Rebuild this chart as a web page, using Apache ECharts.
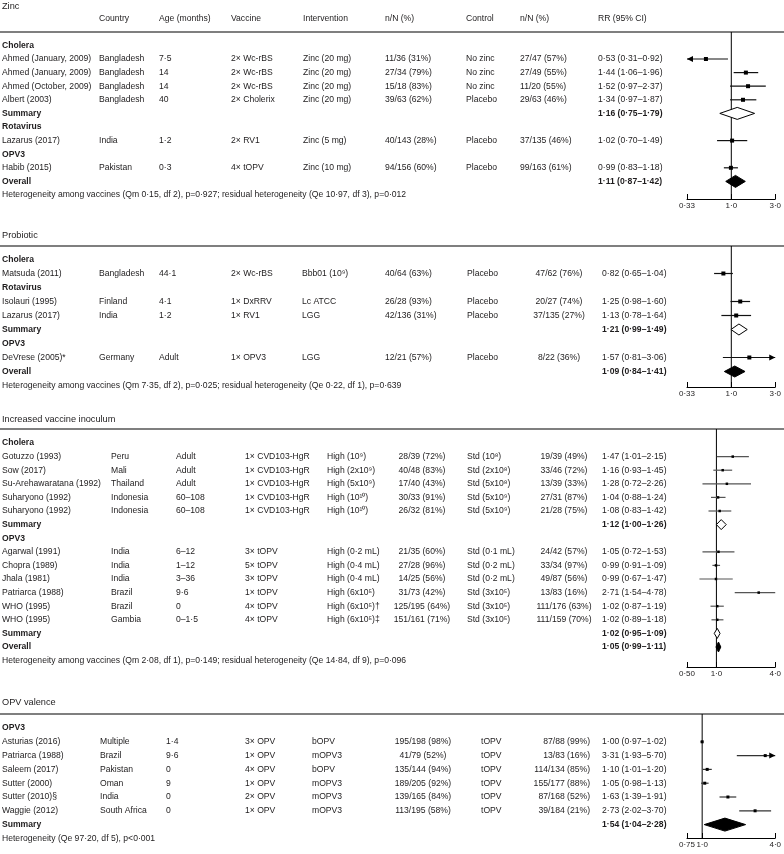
<!DOCTYPE html>
<html><head><meta charset="utf-8">
<script src="https://cdn.jsdelivr.net/npm/echarts@6/dist/echarts.min.js"></script>
<style>html,body{margin:0;padding:0;background:#fff}#c{width:784px;height:854px}</style>
</head><body><div id="c"></div>
<script>
// ---------- Zinc ----------
const zincRows    = ['Cholera','Ahmed (January, 2009)','Ahmed (January, 2009)','Ahmed (October, 2009)','Albert (2003)','Summary','Rotavirus','Lazarus (2017)','OPV3','Habib (2015)','Overall'];
const zincKinds   = ['g','s','s','s','s','open','g','s','g','s','fill'];
const zincCountry = ['','Bangladesh','Bangladesh','Bangladesh','Bangladesh','','','India','','Pakistan',''];
const zincAge     = ['','7·5','14','14','40','','','1·2','','0·3',''];
const zincVaccine = ['','2× Wc-rBS','2× Wc-rBS','2× Wc-rBS','2× Cholerix','','','2× RV1','','4× tOPV',''];
const zincInterv  = ['','Zinc (20 mg)','Zinc (20 mg)','Zinc (20 mg)','Zinc (20 mg)','','','Zinc (5 mg)','','Zinc (10 mg)',''];
const zincIntN    = ['','11/36 (31%)','27/34 (79%)','15/18 (83%)','39/63 (62%)','','','40/143 (28%)','','94/156 (60%)',''];
const zincControl = ['','No zinc','No zinc','No zinc','Placebo','','','Placebo','','Placebo',''];
const zincCtrlN   = ['','27/47 (57%)','27/49 (55%)','11/20 (55%)','29/63 (46%)','','','37/135 (46%)','','99/163 (61%)',''];
const zincRR      = [null,0.53,1.44,1.52,1.34,1.16,null,1.02,null,0.99,1.11];
const zincLo      = [null,0.31,1.06,0.97,0.97,0.75,null,0.70,null,0.83,0.87];
const zincHi      = [null,0.92,1.96,2.37,1.87,1.79,null,1.49,null,1.18,1.42];
const zincHet     = 'Heterogeneity among vaccines (Qm 0·15, df 2), p=0·927; residual heterogeneity (Qe 10·97, df 3), p=0·012';
const zincTicks   = [0.33, 1, 3];
const zincTickLabels = ['0·33','1·0','3·0'];

// ---------- Probiotic ----------
const probRows    = ['Cholera','Matsuda (2011)','Rotavirus','Isolauri (1995)','Lazarus (2017)','Summary','OPV3','DeVrese (2005)*','Overall'];
const probKinds   = ['g','s','g','s','s','open','g','s','fill'];
const probCountry = ['','Bangladesh','','Finland','India','','','Germany',''];
const probAge     = ['','44·1','','4·1','1·2','','','Adult',''];
const probVaccine = ['','2× Wc-rBS','','1× DxRRV','1× RV1','','','1× OPV3',''];
const probInterv  = ['','Bbb01 (10⁹)','','Lc ATCC','LGG','','','LGG',''];
const probIntN    = ['','40/64 (63%)','','26/28 (93%)','42/136 (31%)','','','12/21 (57%)',''];
const probControl = ['','Placebo','','Placebo','Placebo','','','Placebo',''];
const probCtrlN   = ['','47/62 (76%)','','20/27 (74%)','37/135 (27%)','','','8/22 (36%)',''];
const probRR      = [null,0.82,null,1.25,1.13,1.21,null,1.57,1.09];
const probLo      = [null,0.65,null,0.98,0.78,0.99,null,0.81,0.84];
const probHi      = [null,1.04,null,1.60,1.64,1.49,null,3.06,1.41];
const probHet     = 'Heterogeneity among vaccines (Qm 7·35, df 2), p=0·025; residual heterogeneity (Qe 0·22, df 1), p=0·639';
const probTicks   = [0.33, 1, 3];
const probTickLabels = ['0·33','1·0','3·0'];

// ---------- Increased vaccine inoculum ----------
const inocRows    = ['Cholera','Gotuzzo (1993)','Sow (2017)','Su-Arehawaratana (1992)','Suharyono (1992)','Suharyono (1992)','Summary','OPV3','Agarwal (1991)','Chopra (1989)','Jhala (1981)','Patriarca (1988)','WHO (1995)','WHO (1995)','Summary','Overall'];
const inocKinds   = ['g','s','s','s','s','s','open','g','s','s','s','s','s','s','open','fill'];
const inocCountry = ['','Peru','Mali','Thailand','Indonesia','Indonesia','','','India','India','India','Brazil','Brazil','Gambia','',''];
const inocAge     = ['','Adult','Adult','Adult','60–108','60–108','','','6–12','1–12','3–36','9·6','0','0–1·5','',''];
const inocVaccine = ['','1× CVD103-HgR','1× CVD103-HgR','1× CVD103-HgR','1× CVD103-HgR','1× CVD103-HgR','','','3× tOPV','5× tOPV','3× tOPV','1× tOPV','4× tOPV','4× tOPV','',''];
const inocInterv  = ['','High (10⁹)','High (2x10⁹)','High (5x10⁹)','High (10¹⁰)','High (10¹⁰)','','','High (0·2 mL)','High (0·4 mL)','High (0·4 mL)','High (6x10⁵)','High (6x10⁵)†','High (6x10⁵)‡','',''];
const inocIntN    = ['','28/39 (72%)','40/48 (83%)','17/40 (43%)','30/33 (91%)','26/32 (81%)','','','21/35 (60%)','27/28 (96%)','14/25 (56%)','31/73 (42%)','125/195 (64%)','151/161 (71%)','',''];
const inocControl = ['','Std (10⁸)','Std (2x10⁸)','Std (5x10⁸)','Std (5x10⁹)','Std (5x10⁹)','','','Std (0·1 mL)','Std (0·2 mL)','Std (0·2 mL)','Std (3x10⁵)','Std (3x10⁵)','Std (3x10⁵)','',''];
const inocCtrlN   = ['','19/39 (49%)','33/46 (72%)','13/39 (33%)','27/31 (87%)','21/28 (75%)','','','24/42 (57%)','33/34 (97%)','49/87 (56%)','13/83 (16%)','111/176 (63%)','111/159 (70%)','',''];
const inocRR      = [null,1.47,1.16,1.28,1.04,1.08,1.12,null,1.05,0.99,0.99,2.71,1.02,1.02,1.02,1.05];
const inocLo      = [null,1.01,0.93,0.72,0.88,0.83,1.00,null,0.72,0.91,0.67,1.54,0.87,0.89,0.95,0.99];
const inocHi      = [null,2.15,1.45,2.26,1.24,1.42,1.26,null,1.53,1.09,1.47,4.78,1.19,1.18,1.09,1.11];
const inocHet     = 'Heterogeneity among vaccines (Qm 2·08, df 1), p=0·149; residual heterogeneity (Qe 14·84, df 9), p=0·096';
const inocTicks   = [0.5, 1, 4];
const inocTickLabels = ['0·50','1·0','4·0'];

// ---------- OPV valence ----------
const valRows     = ['OPV3','Asturias (2016)','Patriarca (1988)','Saleem (2017)','Sutter (2000)','Sutter (2010)§','Waggie (2012)','Summary'];
const valKinds    = ['g','s','s','s','s','s','s','fill'];
const valCountry  = ['','Multiple','Brazil','Pakistan','Oman','India','South Africa',''];
const valAge      = ['','1·4','9·6','0','9','0','0',''];
const valVaccine  = ['','3× OPV','1× OPV','4× OPV','1× OPV','2× OPV','1× OPV',''];
const valInterv   = ['','bOPV','mOPV3','bOPV','mOPV3','mOPV3','mOPV3',''];
const valIntN     = ['','195/198 (98%)','41/79 (52%)','135/144 (94%)','189/205 (92%)','139/165 (84%)','113/195 (58%)',''];
const valControl  = ['','tOPV','tOPV','tOPV','tOPV','tOPV','tOPV',''];
const valCtrlN    = ['','87/88 (99%)','13/83 (16%)','114/134 (85%)','155/177 (88%)','87/168 (52%)','39/184 (21%)',''];
const valRR       = [null,1.00,3.31,1.10,1.05,1.63,2.73,1.54];
const valLo       = [null,0.97,1.93,1.01,0.98,1.39,2.02,1.04];
const valHi       = [null,1.02,5.70,1.20,1.13,1.91,3.70,2.28];
const valHet      = 'Heterogeneity (Qe 97·20, df 5), p<0·001';
const valTicks    = [0.75, 1, 4];
const valTickLabels = ['0·75','1·0','4·0'];

const headerLabels = ['Country','Age (months)','Vaccine','Intervention','n/N (%)','Control','n/N (%)','RR (95% CI)'];

const panels = [
  {title:'Zinc', rows:zincRows, kinds:zincKinds, cols:[zincCountry,zincAge,zincVaccine,zincInterv,zincIntN,zincControl,zincCtrlN], rr:zincRR, lo:zincLo, hi:zincHi, het:zincHet, ticks:zincTicks, tickLabels:zincTickLabels},
  {title:'Probiotic', rows:probRows, kinds:probKinds, cols:[probCountry,probAge,probVaccine,probInterv,probIntN,probControl,probCtrlN], rr:probRR, lo:probLo, hi:probHi, het:probHet, ticks:probTicks, tickLabels:probTickLabels},
  {title:'Increased vaccine inoculum', rows:inocRows, kinds:inocKinds, cols:[inocCountry,inocAge,inocVaccine,inocInterv,inocIntN,inocControl,inocCtrlN], rr:inocRR, lo:inocLo, hi:inocHi, het:inocHet, ticks:inocTicks, tickLabels:inocTickLabels},
  {title:'OPV valence', rows:valRows, kinds:valKinds, cols:[valCountry,valAge,valVaccine,valInterv,valIntN,valControl,valCtrlN], rr:valRR, lo:valLo, hi:valHi, het:valHet, ticks:valTicks, tickLabels:valTickLabels}
];

// ---------- layout (positions / styles) ----------
const layouts = [
  {titleY:6, headerY:19, lineY:32, rowY0:45.4, step:13.6, axisY:199,
   colX:[[99,'left'],[159,'left'],[231,'left'],[303,'left'],[385,'left'],[466,'left'],[520,'left'],[598,'left']],
   sq:4, dh:6, ci:'#111', arrows:true},
  {titleY:235, lineY:246, rowY0:259.5, step:14, axisY:387,
   colX:[[99,'left'],[159,'left'],[231,'left'],[302,'left'],[385,'left'],[467,'left'],[559,'center'],[602,'left']],
   sq:4, dh:5.5, ci:'#111', arrows:true},
  {titleY:419, lineY:429, rowY0:443, step:13.6, axisY:667,
   colX:[[111,'left'],[176,'left'],[245,'left'],[327,'left'],[422,'center'],[467,'left'],[564,'center'],[602,'left']],
   sq:2.5, dh:5, ci:'#555', arrows:false},
  {titleY:702, lineY:714, rowY0:728, step:13.8, axisY:838,
   colX:[[100,'left'],[166,'left'],[245,'left'],[312,'left'],[423,'center'],[481,'left'],[590,'right'],[602,'left']],
   sq:3, dh:6.5, ci:'#333', arrows:true}
];
const FOREST_LEFT = 687, FOREST_W = 91;
const FONT = '"Liberation Sans", Arial, sans-serif';
const FS = 8.6;
const TICK_FS = 8;
const TXT = '#1e1c1d';

function fmt(v){ return v.toFixed(2).replace('.', '·'); }

const graphics = [];
function addText(x, y, text, align, bold, size){
  if (!text) return;
  graphics.push({type:'text', x:x, y:y, silent:true,
    style:{text:text, fill:TXT, font:(bold?'bold ':'') + (size||FS) + 'px ' + FONT, align:align||'left', verticalAlign:'middle'}});
}

const grids = [], xAxes = [], yAxes = [], series = [];

panels.forEach((P, pi) => {
  const L = layouts[pi];
  addText(2, L.titleY, P.title, 'left', false, 9.2);
  if (pi === 0) headerLabels.forEach((h, ci) => addText(L.colX[ci][0], L.headerY, h, 'left', false));
  graphics.push({type:'line', silent:true, shape:{x1:0, y1:L.lineY, x2:784, y2:L.lineY}, style:{stroke:'#555', lineWidth:1.6}});
  P.rows.forEach((r, i) => {
    const y = L.rowY0 + L.step * i;
    const k = P.kinds[i];
    addText(2, y, r, 'left', k !== 's');
    P.cols.forEach((col, ci) => addText(L.colX[ci][0], y, col[i], L.colX[ci][1], false));
    if (P.rr[i] != null) {
      addText(L.colX[7][0], y, fmt(P.rr[i]) + ' (' + fmt(P.lo[i]) + '–' + fmt(P.hi[i]) + ')', 'left', k === 'open' || k === 'fill');
    }
  });
  addText(2, L.rowY0 + L.step * P.rows.length, P.het, 'left', false);

  grids.push({left:FOREST_LEFT, width:FOREST_W, top:L.lineY, height:L.axisY - L.lineY, containLabel:false});
  const tmin = P.ticks[0], tmax = P.ticks[P.ticks.length - 1];
  xAxes.push({type:'log', logBase:10, gridIndex:pi, min:tmin, max:tmax,
    axisLine:{show:true, onZero:false, lineStyle:{color:'#000', width:1}},
    axisTick:{show:true, inside:true, length:5, customValues:P.ticks, lineStyle:{color:'#000', width:1}},
    axisLabel:{show:true, customValues:P.ticks, margin:3, color:TXT, fontFamily:FONT, fontSize:TICK_FS,
      formatter:(v) => { const j = P.ticks.findIndex(t => Math.abs(t - v) / t < 1e-4); return j >= 0 ? P.tickLabels[j] : ''; }},
    splitLine:{show:false}, minorTick:{show:false}, minorSplitLine:{show:false}});
  yAxes.push({type:'value', gridIndex:pi, inverse:true, show:false,
    min:(L.lineY - L.rowY0) / L.step, max:(L.axisY - L.rowY0) / L.step, splitLine:{show:false}});

  // reference line at RR = 1
  series.push({type:'custom', xAxisIndex:pi, yAxisIndex:pi, silent:true, animation:false,
    data:[[1, 0]], encode:{x:0, y:1},
    renderItem:(params, api) => {
      const x = api.coord([api.value(0), 0])[0];
      const cs = params.coordSys;
      return {type:'line', shape:{x1:x, y1:cs.y, x2:x, y2:cs.y + cs.height}, style:{stroke:'#000', lineWidth:1}};
    }});

  const data = [];
  P.rr.forEach((v, i) => { if (v != null) data.push([v, P.lo[i], P.hi[i], i]); });
  series.push({type:'custom', xAxisIndex:pi, yAxisIndex:pi, silent:true, animation:false,
    data:data, encode:{x:[0,1,2], y:3},
    renderItem:(params, api) => {
      const est = api.value(0), lo = api.value(1), hi = api.value(2), row = api.value(3);
      const kind = P.kinds[row];
      const y = api.coord([est, row])[1];
      const xe = api.coord([est, row])[0];
      const xl = api.coord([Math.max(lo, tmin), row])[0];
      const xh = api.coord([Math.min(hi, tmax), row])[0];
      const ch = [];
      if (kind === 'open' || kind === 'fill') {
        ch.push({type:'polygon', shape:{points:[[xl,y],[xe,y-L.dh],[xh,y],[xe,y+L.dh]]},
          style:{fill: kind === 'fill' ? '#000' : '#fff', stroke:'#000', lineWidth:1}});
      } else {
        ch.push({type:'line', shape:{x1:xl, y1:y, x2:xh, y2:y}, style:{stroke:L.ci, lineWidth:1.2}});
        if (L.arrows && lo < tmin) ch.push({type:'polygon', shape:{points:[[xl,y],[xl+6,y-3],[xl+6,y+3]]}, style:{fill:'#000'}});
        if (L.arrows && hi > tmax) ch.push({type:'polygon', shape:{points:[[xh,y],[xh-6,y-3],[xh-6,y+3]]}, style:{fill:'#000'}});
        const s = L.sq;
        ch.push({type:'rect', shape:{x:xe - s/2, y:y - s/2, width:s, height:s}, style:{fill:'#000'}});
      }
      return {type:'group', children:ch};
    }});
});

const chart = echarts.init(document.getElementById('c'), null, {renderer:'canvas'});
chart.setOption({
  animation:false,
  backgroundColor:'#fff',
  textStyle:{fontFamily:FONT},
  grid:grids, xAxis:xAxes, yAxis:yAxes, series:series,
  graphic:graphics
});
</script></body></html>
